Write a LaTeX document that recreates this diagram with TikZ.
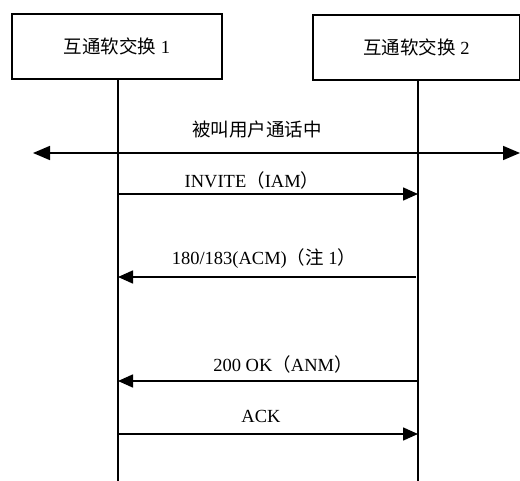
\documentclass[tikz,border=0pt]{standalone}
\usepackage{fontspec}
\setmainfont{Liberation Serif}
\newfontfamily\cjk{Noto Sans CJK SC}
\usetikzlibrary{arrows.meta}
\begin{document}
\begin{tikzpicture}[x=1pt,y=-1pt,
  entity/.style={draw,line width=1.6pt,minimum width=210pt,minimum height=65pt,inner sep=0pt,font=\fontsize{18.5}{20}\selectfont},
  lifeline/.style={line width=1.6pt},
  msg/.style={line width=1.6pt,-{Triangle[length=15pt,width=13pt]}},
  bimsg/.style={line width=1.6pt,{Triangle[length=17pt,width=14pt]}-{Triangle[length=17pt,width=14pt]}},
  lbl/.style={font=\fontsize{18.5}{20}\selectfont,anchor=base,inner sep=0pt}]
\useasboundingbox (0,0) rectangle (520,481);
\node[entity] (box1) at (117,46.5) {{\cjk 互通软交换} 1};
\node[entity,minimum width=207pt] (box2) at (416.5,47.5) {{\cjk 互通软交换} 2};
\coordinate (l1top) at (118,79);
\coordinate (l1bot) at (118,481);
\coordinate (l2top) at (418,80);
\coordinate (l2bot) at (418,481);
\draw[lifeline] (l1top) -- (l1bot);
\draw[lifeline] (l2top) -- (l2bot);
% busy
\coordinate (bl) at (33,153);
\coordinate (br) at (520,153);
\draw[bimsg] (bl) -- (br);
\node[lbl] (t0) at (257,137) {\cjk 被叫用户通话中};
% INVITE
\coordinate (a1) at (118,194);
\coordinate (b1) at (418,194);
\draw[msg] (a1) -- (b1);
\node[lbl] (t1) at (252,188) {INVITE{\cjk （}IAM{\cjk ）}};
% 180/183
\coordinate (a2) at (118,277);
\coordinate (b2) at (416,277);
\draw[msg] (b2) -- (a2);
\node[lbl] (t2) at (264,265) {180/183(ACM){\cjk （注} 1{\cjk ）}};
% 200 OK
\coordinate (a3) at (118,381);
\coordinate (b3) at (418,381);
\draw[msg] (b3) -- (a3);
\node[lbl] (t3) at (283,371) {200 OK{\cjk （}ANM{\cjk ）}};
% ACK
\coordinate (a4) at (118,434);
\coordinate (b4) at (418,434);
\draw[msg] (a4) -- (b4);
\node[lbl] (t4) at (261,422) {ACK};
\end{tikzpicture}
\end{document}
